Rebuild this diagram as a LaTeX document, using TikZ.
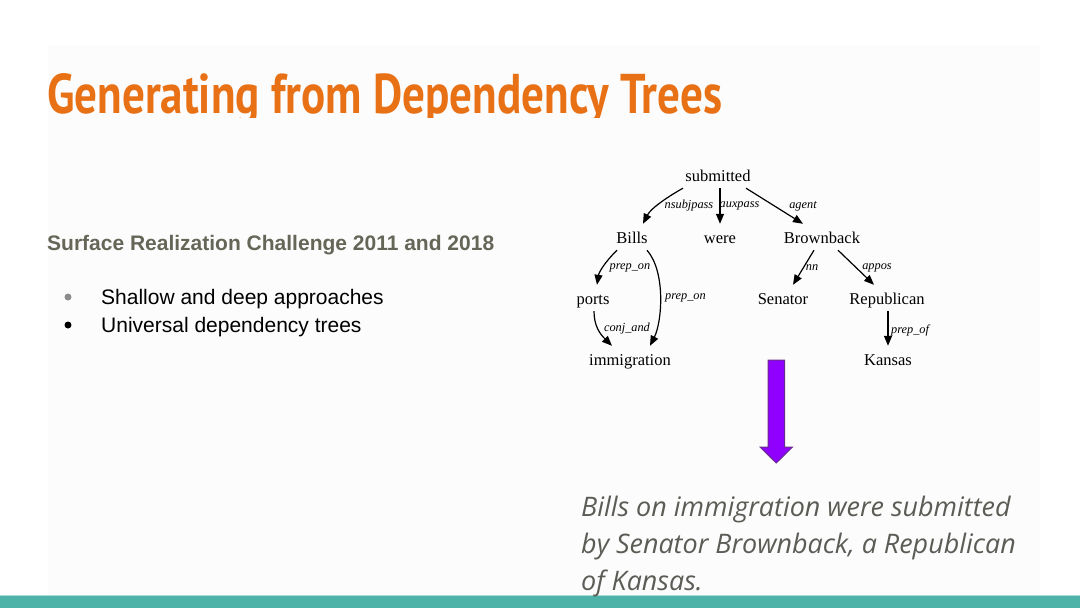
\documentclass[tikz,border=0pt]{standalone}
\usepackage{fontspec}
\setmainfont{Liberation Serif}
\newfontfamily\titlefont{PT Sans}
\newfontfamily\arialfont{Liberation Sans}
\newfontfamily\osfont{Open Sans}
\usetikzlibrary{arrows.meta}
\definecolor{titleorange}{RGB}{232,113,22}
\definecolor{subgray}{RGB}{102,102,88}
\definecolor{bodygray}{RGB}{92,92,86}
\definecolor{teal}{RGB}{77,179,168}
\definecolor{tealline}{RGB}{170,220,214}
\definecolor{violetfill}{RGB}{143,0,255}
\definecolor{violetedge}{RGB}{106,45,143}
\definecolor{panel}{RGB}{252,252,252}
\tikzset{
  word/.style={inner xsep=3pt, inner ysep=7pt, text height=12pt, text depth=0pt, anchor=base,
    font=\fontsize{16.5}{18}\selectfont},
  dep/.style={line width=1.2pt, -{Triangle[length=10pt,width=8pt]}},
  rel/.style={inner sep=0pt, font=\fontsize{12.3}{14}\selectfont\itshape},
  bulletline/.style={anchor=base west, inner sep=0pt, font=\arialfont\fontsize{21}{24}\selectfont},
  sentline/.style={anchor=base west, inner sep=0pt, text=bodygray, font=\osfont\itshape\fontsize{26.9}{32}\selectfont}
}
\begin{document}
\begin{tikzpicture}[x=1pt,y=-1pt]
\useasboundingbox (0,0) rectangle (1080,608);
\fill[white] (0,0) rectangle (1080,608);
\fill[panel] (48,45) rectangle (1040,596);
% bottom bar
\fill[teal] (0,596) rectangle (1080,608);
\draw[tealline, line width=1pt] (0,595.5) -- (1080,595.5);

% title (bottom clipped as in the slide)
\begin{scope}
\clip (0,0) rectangle (1080,117);
\node[anchor=base west, inner sep=0pt, text=titleorange] (title) at (47,113)
  {\resizebox{675pt}{\height}{\titlefont\bfseries\fontsize{56}{60}\selectfont Generating from Dependency Trees}};
\end{scope}

% left text
\node[anchor=base west, inner sep=0pt, text=subgray, font=\arialfont\bfseries\fontsize{21}{24}\selectfont] (sub) at (47,250.5)
  {Surface Realization Challenge 2011 and 2018};
\node[circle, fill=gray!90, inner sep=0pt, minimum size=7pt] (b1) at (68,297) {};
\node[circle, fill=black, inner sep=0pt, minimum size=7pt] (b2) at (68,325) {};
\node[bulletline] (t1) at (101,304) {Shallow and deep approaches};
\node[bulletline] (t2) at (101,332.5) {Universal dependency trees};

% dependency tree
\node[word] (subm) at (718,181) {submitted};
\node[word] (bills) at (632,243) {Bills};
\node[word] (were) at (720,243) {were};
\node[word] (brown) at (822,243) {Brownback};
\node[word] (ports) at (593,304) {ports};
\node[word] (senator) at (783,304) {Senator};
\node[word] (repub) at (887,304) {Republican};
\node[word] (immig) at (630,365) {immigration};
\node[word] (kansas) at (888,365) {Kansas};

\draw[dep] ([xshift=-35pt]subm.south) .. controls (669,196) and (651,208) .. ([xshift=11pt]bills.north);
\draw[dep] (were.north |- subm.south) -- (were.north);
\draw[dep] ([xshift=28pt]subm.south) -- ([xshift=-19pt]brown.north);
\draw[dep] ([xshift=-15pt]bills.south) .. controls (605,262) and (599,272) .. ([xshift=4pt]ports.north);
\draw[dep] ([xshift=15pt]bills.south) .. controls (666,272) and (662,322) .. ([xshift=20pt]immig.north);
\draw[dep] ([xshift=1pt]ports.south) .. controls (594,326) and (600,334) .. ([xshift=-18pt]immig.north);
\draw[dep] ([xshift=-8pt]brown.south) -- ([xshift=10pt]senator.north);
\draw[dep] ([xshift=16pt]brown.south) -- ([xshift=-13pt]repub.north);
\draw[dep] ([xshift=1pt]repub.south) -- ([xshift=0pt]kansas.north);

\node[rel] (l1) at (689,206) {nsubjpass};
\node[rel, anchor=west] (l2) at (719.5,206) {auxpass};
\node[rel] (l3) at (803,206) {agent};
\node[rel] (l4) at (630,268) {prep\_on};
\node[rel, anchor=west] (l5) at (665,298) {prep\_on};
\node[rel] (l6) at (627,329) {conj\_and};
\node[rel] (l7) at (812,268) {nn};
\node[rel] (l8) at (877,268) {appos};
\node[rel, anchor=west] (l9) at (891,330) {prep\_of};

% big violet arrow
\draw[violetedge, fill=violetfill, line width=1pt, line join=miter]
  (768,360) -- (784.5,360) -- (784.5,447) -- (792.5,447) -- (776.25,463) -- (760,447) -- (768,447) -- cycle;

% generated sentence
\node[sentline] (s1) at (581,516) {Bills on immigration were submitted};
\node[sentline] (s2) at (581,553) {by Senator Brownback, a Republican};
\node[sentline] (s3) at (581,590) {of Kansas.};
\end{tikzpicture}
\end{document}
